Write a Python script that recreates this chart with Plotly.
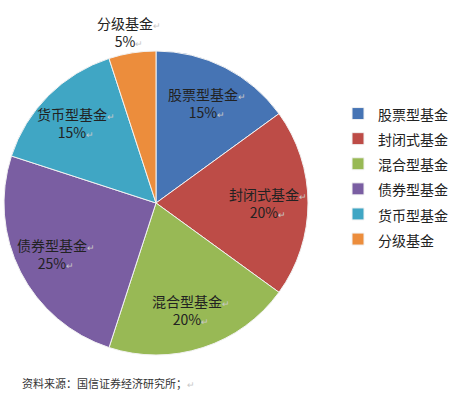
import math

import plotly.graph_objects as go

FONT = "Noto Sans CJK SC"

CATEGORIES = ["股票型基金", "封闭式基金", "混合型基金", "债券型基金", "货币型基金", "分级基金"]
SHARES = [15, 20, 20, 25, 15, 5]
COLORS = ["#4674b4", "#bd4c47", "#98b955", "#7a5ea2", "#40a6c4", "#ec8d3c"]
SOURCE = "资料来源：国信证券经济研究所；"

W, H = 457, 400
CX, CY, R = 156, 203, 152  # pie centre / radius in pixels
INSIDE_R = 0.74  # label distance from centre, as a fraction of the radius
OUTSIDE_R = 1.14
MARK = '<span style="color:#c8c8c8;font-size:9px">↵</span>'


def main():
    fig = go.Figure(
        go.Pie(
            # legend font size sets the row spacing, the span keeps the glyphs smaller
            labels=[f'<span style="font-size:14px">{c}</span>' for c in CATEGORIES],
            values=SHARES,
            textinfo="none",
            hovertext=CATEGORIES,
            hoverinfo="text+percent",
            sort=False,
            direction="clockwise",
            rotation=0,
            marker=dict(colors=COLORS, line=dict(color="#f2f2f2", width=1)),
            domain=dict(
                x=[(CX - R) / W, (CX + R) / W],
                y=[(H - CY - R) / H, (H - CY + R) / H],
            ),
        )
    )

    # Slice labels at the middle angle of each slice
    total = sum(SHARES)
    start = 0
    for i, (cat, val) in enumerate(zip(CATEGORIES, SHARES)):
        mid = (start + val / 2) / total * 2 * math.pi
        start += val
        frac = OUTSIDE_R if i == len(CATEGORIES) - 1 else INSIDE_R
        px_x = CX + frac * R * math.sin(mid)
        px_y = CY - frac * R * math.cos(mid)
        fig.add_annotation(
            text=f"{cat}{MARK}<br>{val}%{MARK}",
            xref="paper",
            yref="paper",
            x=px_x / W,
            y=1 - px_y / H,
            xanchor="center",
            yanchor="middle",
            showarrow=False,
            font=dict(family=FONT, size=14, color="#222222"),
        )

    fig.update_layout(
        width=W,
        height=H,
        margin=dict(l=0, r=0, t=0, b=0, autoexpand=False),
        paper_bgcolor="white",
        plot_bgcolor="white",
        font=dict(family=FONT, color="#222222"),
        showlegend=True,
        legend=dict(
            x=338 / W,
            y=1 - 96 / H,
            xanchor="left",
            yanchor="top",
            font=dict(family=FONT, size=17, color="#222222"),
            itemwidth=30,
            bgcolor="rgba(0,0,0,0)",
        ),
    )

    fig.add_annotation(
        text=SOURCE + MARK,
        xref="paper",
        yref="paper",
        x=20 / W,
        y=1 - 383 / H,
        xanchor="left",
        yanchor="middle",
        showarrow=False,
        font=dict(family=FONT, size=11, color="#333333"),
    )

    # page body has an 8px default margin, drop it so the figure sits at the corner
    fig.write_html(
        "out.html",
        config={"displayModeBar": False},
        post_script="document.body.style.margin = '0';",
    )


if __name__ == "__main__":
    main()
